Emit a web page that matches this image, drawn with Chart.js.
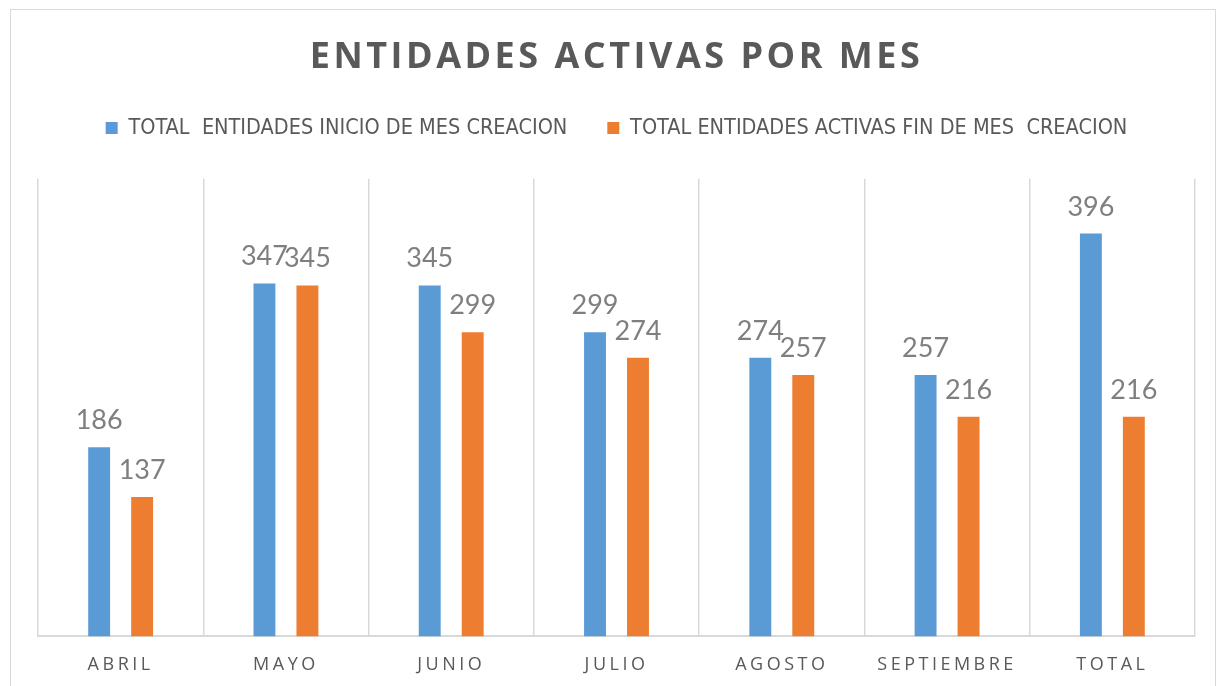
<!DOCTYPE html>
<html>
<head>
    <meta charset="utf-8">
    <title>Entidades activas por mes</title>
    <script src="https://cdn.jsdelivr.net/npm/chart.js"></script>
    <style>
        body { margin: 0; background: #fff; }
        #wrap { width: 1220px; height: 686px; position: relative; }
    </style>
</head>
<body>
<div id="wrap"><canvas id="chart"></canvas></div>
<script>
    // data
    var meses = ['ABRIL', 'MAYO', 'JUNIO', 'JULIO', 'AGOSTO', 'SEPTIEMBRE', 'TOTAL'];
    var inicioMes = [186, 347, 345, 299, 274, 257, 396];
    var finMes = [137, 345, 299, 274, 257, 216, 216];
    var serieNombres = ['TOTAL  ENTIDADES INICIO DE MES CREACION', 'TOTAL ENTIDADES ACTIVAS FIN DE MES  CREACION'];

    var gris = '#595959';

    // letter spacing: ticks spaced, legend not, title a bit
    var spacing = {
        id: 'spacing',
        afterInit: function (chart) {
            var leg = chart.legend;
            var dl = leg.draw;
            leg.draw = function () {
                var c = this.ctx, s = c.letterSpacing;
                c.letterSpacing = '0px';
                dl.apply(this, arguments);
                c.letterSpacing = s;
            };
            // extra room under the legend
            var fl = leg.fit;
            leg.fit = function () {
                fl.apply(this, arguments);
                this.height += 30;
            };
            var tb = chart.titleBlock;
            var dt = tb.draw;
            tb.draw = function () {
                var c = this.ctx, s = c.letterSpacing;
                c.letterSpacing = '3.5px';
                dt.apply(this, arguments);
                c.letterSpacing = s;
            };
        },
        beforeDraw: function (chart) {
            var c = chart.ctx;
            c.letterSpacing = '3.5px';
            // outer frame
            c.save();
            c.strokeStyle = '#d9d9d9';
            c.lineWidth = 1;
            c.strokeRect(10.5, 9.5, 1205, 700);
            c.restore();
        },
        afterDraw: function (chart) {
            chart.ctx.letterSpacing = '0px';
        }
    };

    // value labels above bars
    var valores = {
        id: 'valores',
        afterDatasetsDraw: function (chart) {
            var c = chart.ctx;
            c.save();
            c.letterSpacing = '0px';
            c.font = '27px Lato, sans-serif';
            c.fillStyle = '#7f7f7f';
            c.textAlign = 'center';
            c.textBaseline = 'alphabetic';
            chart.data.datasets.forEach(function (ds, i) {
                chart.getDatasetMeta(i).data.forEach(function (bar, j) {
                    c.fillText(ds.data[j], bar.x, bar.y - 18);
                });
            });
            c.restore();
        }
    };

    new Chart(document.getElementById('chart'), {
        type: 'bar',
        data: {
            labels: meses,
            datasets: [
                {
                    label: serieNombres[0],
                    data: inicioMes,
                    backgroundColor: '#5b9bd5',
                    categoryPercentage: 0.52,
                    barPercentage: 0.51
                },
                {
                    label: serieNombres[1],
                    data: finMes,
                    backgroundColor: '#ed7d31',
                    categoryPercentage: 0.52,
                    barPercentage: 0.51
                }
            ]
        },
        options: {
            responsive: true,
            maintainAspectRatio: false,
            animation: false,
            layout: { padding: { left: 38, right: 25, top: 0, bottom: -8 } },
            plugins: {
                title: {
                    display: true,
                    text: 'ENTIDADES ACTIVAS POR MES',
                    color: gris,
                    font: { family: 'Open Sans', size: 36, weight: 'bold', lineHeight: 1.2 },
                    padding: { top: 36, bottom: -2 }
                },
                legend: {
                    labels: {
                        color: gris,
                        font: { family: 'Liberation Sans Narrow, DejaVu Sans Condensed, sans-serif', size: 21.5 },
                        boxWidth: 12,
                        boxHeight: 12,
                        padding: 40
                    }
                },
                tooltip: { enabled: false }
            },
            scales: {
                x: {
                    grid: { color: '#d9d9d9', lineWidth: 1.5, drawTicks: false },
                    border: { color: '#d9d9d9', width: 2 },
                    ticks: {
                        color: gris,
                        padding: 18,
                        font: { family: 'Open Sans', size: 18 }
                    }
                },
                y: {
                    display: false,
                    min: 0,
                    max: 450
                }
            }
        },
        plugins: [spacing, valores]
    });
</script>
</body>
</html>
